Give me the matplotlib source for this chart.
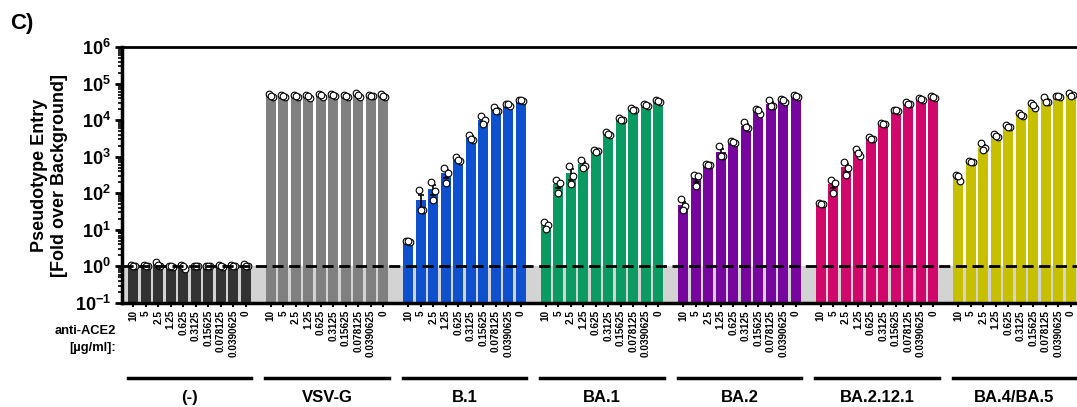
import numpy as np
import matplotlib
matplotlib.use("Agg")
import matplotlib.pyplot as plt
import matplotlib.ticker as mticker
import matplotlib.transforms as mtransforms

plt.rcParams['font.family'] = ['Liberation Sans', 'DejaVu Sans']
plt.rcParams['font.weight'] = 'bold'
plt.rcParams['mathtext.fontset'] = 'custom'
plt.rcParams['mathtext.bf'] = 'Liberation Sans:bold'
plt.rcParams['mathtext.rm'] = 'Liberation Sans:bold'

# datos (3 replicas por barra)
groups = ['(-)', 'VSV-G', 'B.1', 'BA.1', 'BA.2', 'BA.2.12.1', 'BA.4/BA.5']
doses = ['10', '5', '2.5', '1.25', '0.625', '0.3125', '0.15625', '0.078125', '0.0390625', '0']
colors = ['#333333', '#808080', '#0f50cf', '#0a9a62', '#76069d', '#d1086b', '#c6c000']

neg = [[1.1, 1.0, 1.05], [1.1, 1.05, 1.0], [1.3, 1.0, 1.1], [1.05, 0.95, 1.0], [1.1, 0.85, 1.0],
       [1.05, 1.0, 1.0], [1.05, 1.0, 1.0], [1.1, 0.95, 1.0], [1.1, 1.05, 1.0], [1.15, 1.05, 1.0]]
vsvg = [[5.2e4, 4.4e4, 4.6e4], [5.0e4, 4.2e4, 4.6e4], [5.0e4, 4.4e4, 4.7e4], [5.0e4, 4.0e4, 4.6e4],
        [5.2e4, 4.4e4, 4.8e4], [5.2e4, 4.6e4, 4.8e4], [5.0e4, 4.3e4, 4.6e4], [5.5e4, 4.3e4, 4.8e4],
        [5.0e4, 4.5e4, 4.7e4], [5.2e4, 4.4e4, 4.7e4]]
b1 = [[5.0, 4.7, 4.9], [120, 36, 36], [205, 115, 65], [505, 363, 190], [955, 755, 800],
      [4000, 2950, 3000], [12800, 10000, 7900], [22600, 18300, 18000], [28000, 24000, 27000],
      [36000, 33000, 35000]]
ba1 = [[16.6, 13.2, 10.3], [229, 195, 103], [575, 295, 182], [790, 550, 500], [1550, 1400, 1350],
       [4800, 4000, 4200], [11500, 9800, 10200], [21000, 19000, 18500], [27000, 25000, 26000],
       [35000, 32000, 33000]]
ba2 = [[68, 45, 34], [325, 295, 156], [630, 600, 600], [1950, 1030, 1030], [2700, 2400, 2450],
       [8700, 6200, 6500], [20400, 14800, 19500], [35000, 24000, 25000], [38000, 32000, 35000],
       [48000, 43000, 45000]]
ba2121 = [[56, 50, 52], [224, 195, 103], [710, 500, 315], [1630, 1030, 1300], [3400, 3000, 3100],
          [8600, 7900, 8000], [19500, 18000, 18600], [31000, 27000, 27000], [40000, 36000, 38000],
          [45000, 40000, 42000]]
ba45 = [[308, 214, 300], [750, 700, 725], [2400, 1740, 1500], [4200, 3500, 3700], [7500, 6300, 6600],
        [16000, 13000, 13600], [29000, 22000, 25500], [42000, 32000, 31000], [47000, 43000, 45000],
        [54000, 50000, 46000]]

all_data = [neg, vsvg, b1, ba1, ba2, ba2121, ba45]
jitter = [-0.15, 0.15, 0.0]
exps = np.arange(-1, 7)

fig = plt.figure(figsize=(10.77, 4.07), dpi=100)
ax = fig.add_axes([0.1133, 0.2555, 0.8867, 0.629])

ax.axhspan(0.1, 1, color='#d3d3d3', zorder=0, lw=0)

xpos_all = []
for g, data in enumerate(all_data):
    arr = np.array(data, dtype=float)
    x = g * 11 + np.arange(10)
    xpos_all.extend(x)
    mean = arr.mean(axis=1)
    sem = arr.std(axis=1, ddof=1) / np.sqrt(3)
    ax.bar(x, mean, width=0.82, color=colors[g], zorder=2, bottom=0.1)
    ax.errorbar(x, mean, yerr=sem, fmt='none', ecolor='black', elinewidth=1.2,
                capsize=2.5, capthick=1.2, zorder=3)
    for k in range(3):
        ax.plot(x + jitter[k], arr[:, k], 'o', ms=4.8, mfc='white', mec='black',
                mew=0.8, zorder=4)

ax.axhline(1, color='black', ls=(0, (4, 2)), lw=2, zorder=5)

ax.set_yscale('log')
ax.set_ylim(0.1, 1e6)
ax.set_xlim(-0.9, 75.5)
# ticks fijos solo dentro del rango
ax.yaxis.set_major_locator(mticker.FixedLocator(10.0 ** exps))
minors = [m * 10.0 ** e for e in exps[:-1] for m in range(2, 10)]
ax.yaxis.set_minor_locator(mticker.FixedLocator(minors))
ax.yaxis.set_minor_formatter(mticker.NullFormatter())
ax.yaxis.set_major_formatter(mticker.FixedFormatter(
    [r'$\mathbf{10^{%d}}$' % e for e in exps]))
ax.tick_params(axis='y', which='major', length=5, width=2, labelsize=13, pad=3)
ax.tick_params(axis='y', which='minor', length=3, width=1.2)

ax.set_xticks(xpos_all)
ax.set_xticklabels(doses * 7, rotation=90, fontsize=7.2, fontweight='bold')
ax.tick_params(axis='x', length=3, width=1.5, pad=2)

ax.spines['right'].set_visible(False)
ax.spines['left'].set_linewidth(2.5)
ax.spines['bottom'].set_linewidth(2.5)
ax.spines['top'].set_linewidth(2)

ax.set_ylabel('Pseudotype Entry\n[Fold over Background]', fontsize=13,
              fontweight='bold', labelpad=5)

trans = mtransforms.blended_transform_factory(ax.transData, ax.transAxes)
for g, name in enumerate(groups):
    x0 = g * 11 - 0.45
    x1 = g * 11 + 9.45
    ax.plot([x0, x1], [-0.293, -0.293], color='black', lw=2.5, transform=trans,
            clip_on=False)
    ax.text((x0 + x1) / 2, -0.371, name, transform=trans, ha='center', va='center',
            fontsize=12, fontweight='bold')

fig.text(116 / 1077, 1 - 331 / 407, 'anti-ACE2', ha='right', va='center',
         fontsize=9.3, fontweight='bold')
fig.text(116 / 1077, 1 - 348 / 407, '[µg/ml]:', ha='right', va='center',
         fontsize=9.3, fontweight='bold')
fig.text(10 / 1077, 1 - 24 / 407, 'C)', ha='left', va='center', fontsize=16,
         fontweight='bold')

fig.savefig('out.png', dpi=100)
